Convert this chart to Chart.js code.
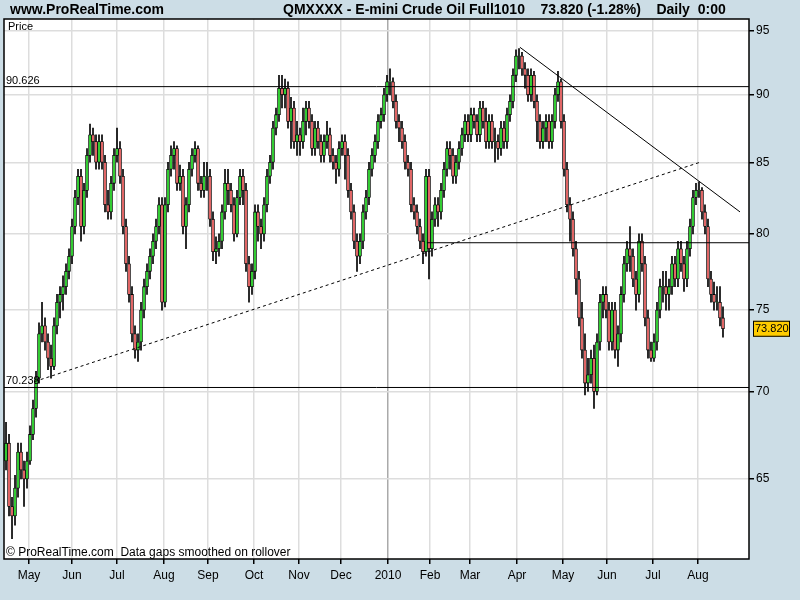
<!DOCTYPE html>
<html><head><meta charset="utf-8">
<script src="https://cdn.jsdelivr.net/npm/chart.js@4"></script>
<style>html,body{margin:0;padding:0;background:#ccdde6;}#c{display:block;}</style>
</head><body>
<canvas id="c" width="800" height="600"></canvas>
<script>
const closes=[67,63.5,63,64.5,66.5,65.5,65,66,67.5,69,
70.8,73.5,74,73,72,71.5,74,75.5,76,76.5,
77.5,78.5,80.5,82.5,84,80.5,83,85.5,87,86.5,
85,86.5,85,82,81.5,83.5,85.5,86,84,80.5,
78,76,73.5,72.5,73,75,76.5,77.5,78.5,79.5,
80.5,82,75.5,82,84.5,85.5,86,83.5,84,80.5,
82,84.5,85.5,86,83.5,83,84,84,81,78.8,
79,79.5,81.5,83.5,83,82,80,82.5,84,83,
78,76.5,77.5,81.5,80.5,80,82,84,85,87.5,
88.5,90.5,90,90.5,88,89,86.5,87,86.5,88,
89,88,86,87.5,86.5,85.5,86.5,87,85.5,85,
84.5,86,86.5,85.5,83,81.5,79.5,78.5,79.5,81.5,
82.5,84.5,85.5,86.5,88,88.5,90,91,91,89.5,
88,87.5,86.5,85,84.5,82,81.5,80.5,79.5,78.8,
84,79,81,82,81.5,83,84.5,86,85.5,84,
85,86,87,88,87,88.5,88,87,89,88,
86.5,88,86.5,86.5,86,87.5,86.5,88.5,89.5,91.5,
93,93,92,91.5,90,91.5,89.5,88,86.5,87.5,
88,86.5,88,90,91,88,84.5,82,81,79,
77,74.5,72.5,70.5,71,72,70,73,75.5,76,
75,73,75,72.5,73.5,76,78,79,78.5,77,
76,79.5,78,74.5,72.5,72,73,75,76.5,76.5,
76,76.5,78,77,79,78,77,79,80.5,82.5,
83,83,81.5,80.5,77,76,75.5,75.5,74.5,73.82];
const highs=[68.2,67.5,64,65.2,67,67,66,66.5,68,69.5,
71.2,74.2,75.5,74.5,73.5,72.8,74.5,76,76.5,77.2,
78,79,81,83,84.5,84.5,83.5,86,87.8,87.5,
87,87,87,85.5,83,84,86,87.5,86.5,84.5,
81,78.5,76.5,74,73.5,75.5,77,78,79,80,
81,82.5,82.5,82.5,85,86.2,86.5,86.2,84.8,84.5,
82.5,85,86,86.5,86.2,84,85,85,84.5,81.5,
79.8,80,82,84.5,84.5,83.5,82.5,83,84.5,84.5,
83.5,78.5,78,82,82,81,82.5,84.5,85.5,88,
89,91.5,91.5,91.2,91,89.8,89.5,88,87.5,89,
89.5,89.5,88.5,88,88,87,87,88,87.5,86,
85.5,86.5,87,87,86,83.5,82,80,80,82,
83,85,86,87,88.5,89,90.5,91.5,92,91.3,
90,88.5,88,87,85.5,85,82.5,82,81,80,
84.5,84.5,81.5,82.5,82.5,83.5,85,86.5,86.5,86,
85.5,86.5,87.5,88.5,88.5,89,89,88.5,89.5,89.5,
89,88.5,88.5,87.5,87,88,88,89,90,92,
93.5,93.6,93.3,92.5,92,92,91.8,90,88.5,88,
88.5,88.5,88.5,90.5,91.8,91.2,88.5,85,82.5,81.5,
79.5,77.5,75.5,73.5,72,72.5,72.8,73.5,76,76.5,
76.5,75.5,75.5,75.5,74,76.5,78.5,79.5,80.5,79,
77.5,80,80,78.5,75,73,73.5,75.5,77,77.5,
77.5,77,78.5,78.5,79.5,79.5,78.5,79.5,81,83,
83.5,83.6,83.2,82,81,77.5,76.8,76.5,76.5,75.2];
const lows=[65.5,63,61.8,62.5,64,65,63.5,64.5,65.8,67.2,
68.5,70.5,73,72.5,71.3,70.8,71.3,73.5,74.5,75,
76,77,78,80,82,79.5,80,82.5,85,85.5,
84.5,84.5,84.5,81.5,81,81,83,85,83.5,80,
77.5,75.5,73,72,71.8,72.5,74.5,76,77,78,
79,80,75,75.2,81.5,84,84.5,83,83,80,
79,81.5,84,85,83,82.5,82.5,83,80.5,78.2,
78,78.5,79,81,82,81.5,79.5,79.8,82,82,
77.5,75.5,76,77,79.5,79,79.5,81.5,83.5,84.5,
87,88,89,89,87.5,86,86,85.5,85.5,86,
87,87.5,85.5,85.5,86,85,85,86,85,84.5,
83.5,84,85.5,83.8,82.5,81,79,77.5,78,79,
81,82,84,85,86,87.5,88,89.5,90,89,
87.5,86.5,86,84.5,84,81.5,81,80,79,78,
78.5,77,78.5,80.5,80.5,81,82.5,84,84.5,83.5,
83.5,84.5,85.5,86.5,86.5,86.5,87.5,86.5,86.5,87.5,
86,86,86,85,85.2,85.5,86,86,88,89,
91,92,91.5,90.5,89.5,89.5,89,86.5,86,86,
86.5,86,86,87.5,89.5,87.5,84,81.5,79.5,78.5,
76,74,72,69.8,70,70.5,69,69.8,72.5,74.5,
74.5,72.5,72.5,72,71.5,73,75.5,77.5,77.5,76.5,
75,75.5,77.5,74,72,71.8,71.8,72.5,74.5,75.5,
75,75,76,76.5,76.5,77.5,76.2,76.5,78.5,80,
82,82.5,81,80,76.5,75.5,75,75,74,73.3];
const firstOpen=66;
const monthIdx=[7.67,22,37,52.67,67.33,82.67,97.67,111.67,127.33,141.33,154.67,170.33,185.67,200.33,215.67,230.67];
const monthLabels=['May','Jun','Jul','Aug','Sep','Oct','Nov','Dec','2010','Feb','Mar','Apr','May','Jun','Jul','Aug'];
const yTicks=[65,70,75,80,85,90,95];
const resist=90.626, support=70.238, midLevel=79.4;
const dotLine=[[9.67,70.6],[231.3,85]];
const downLine=[[171.3,93.7],[244.67,81.5]];
const midLineX=[140.3,247.67];

const opens=closes.map((c,i)=>i===0?firstOpen:closes[i-1]);
const GREEN='#33cc33',RED='#e06666';
const bodyData=closes.map((c,i)=>({x:i,y:[opens[i],c===opens[i]?c+0.02:c]}));
const wickData=closes.map((c,i)=>({x:i,y:[lows[i],highs[i]]}));
const bodyColors=closes.map((c,i)=>c>=opens[i]?GREEN:RED);
const XMIN=-0.67,XMAX=247.67;
const ln=(pts,dash)=>({type:'line',data:pts.map(p=>({x:p[0],y:p[1]})),borderColor:'#000',borderWidth:1,borderDash:dash||[],pointRadius:0,order:0,clip:true});

const deco={id:'deco',
beforeDraw(ch){const c=ch.ctx,a=ch.chartArea;c.save();c.fillStyle='#ccdde6';c.fillRect(0,0,800,600);c.fillStyle='#fff';c.fillRect(a.left,a.top,a.right-a.left,a.bottom-a.top);c.restore();},
afterDraw(ch){const c=ch.ctx,a=ch.chartArea,ys=ch.scales.y;c.save();
c.strokeStyle='#000';c.lineWidth=1.5;c.strokeRect(a.left,a.top,a.right-a.left,a.bottom-a.top);
c.fillStyle='#000';c.font='bold 14px "Liberation Sans",Arial';c.textBaseline='middle';
c.fillText('www.ProRealTime.com',10,10);
c.fillText('QMXXXX - E-mini Crude Oil Full1010    73.820 (-1.28%)    Daily  0:00',283,10);
c.font='11px "Liberation Sans",Arial';c.textBaseline='alphabetic';
c.fillText('Price',8,30);
c.fillText('90.626',6,ys.getPixelForValue(resist)-3);
c.fillText('70.238',6,ys.getPixelForValue(support)-3);
c.font='12px "Liberation Sans",Arial';
c.fillText('© ProRealTime.com  Data gaps smoothed on rollover',6,556);
const py=ys.getPixelForValue(closes[closes.length-1]);
c.fillStyle='#ffcc00';c.fillRect(753,py-8,37,16);c.strokeStyle='#000';c.lineWidth=1;c.strokeRect(753.5,py-7.5,36,15);
c.fillStyle='#000';c.textBaseline='middle';c.font='11px "Liberation Sans",Arial';c.fillText('73.820',755,py+0.5);
c.restore();}};

new Chart(document.getElementById('c'),{
type:'bar',
data:{datasets:[
{data:bodyData,backgroundColor:bodyColors,borderColor:'#000',borderWidth:0.8,borderSkipped:false,barThickness:3,grouped:false,order:1},
{data:wickData,backgroundColor:'#000',borderWidth:0,barThickness:1,grouped:false,order:2},
ln([[XMIN,resist],[XMAX,resist]]),
ln([[XMIN,support],[XMAX,support]]),
ln([[midLineX[0],midLevel],[midLineX[1],midLevel]]),
ln(dotLine,[3,3]),
ln(downLine)
]},
options:{responsive:false,devicePixelRatio:1,animation:false,
layout:{padding:{left:4,top:19,right:0,bottom:0}},
plugins:{legend:{display:false},tooltip:{enabled:false}},
scales:{
x:{type:'linear',min:XMIN,max:XMAX,offset:false,
afterBuildTicks(s){s.ticks=monthIdx.map(v=>({value:v}));},
afterFit(s){s.height=41;},
ticks:{autoSkip:false,maxRotation:0,color:'#000',font:{family:'"Liberation Sans",Arial',size:12},padding:4,
callback(v,i){return monthLabels[i];}},
grid:{offset:false,color:(ctx)=>ctx.index===8?'#aaaaaa':'#dddddd',lineWidth:1.5,tickLength:5,tickColor:'#000',drawTicks:true},
border:{display:false}},
y:{type:'logarithmic',position:'right',min:60.74,max:95.97,
afterBuildTicks(s){s.ticks=yTicks.map(v=>({value:v}));},
afterFit(s){s.width=51;},
ticks:{color:'#000',font:{family:'"Liberation Sans",Arial',size:12},padding:2,callback(v){return String(v);}},
grid:{color:'#dddddd',lineWidth:1.5,tickLength:5,tickColor:'#000'},
border:{display:false}}
}},
plugins:[deco]});
</script></body></html>
